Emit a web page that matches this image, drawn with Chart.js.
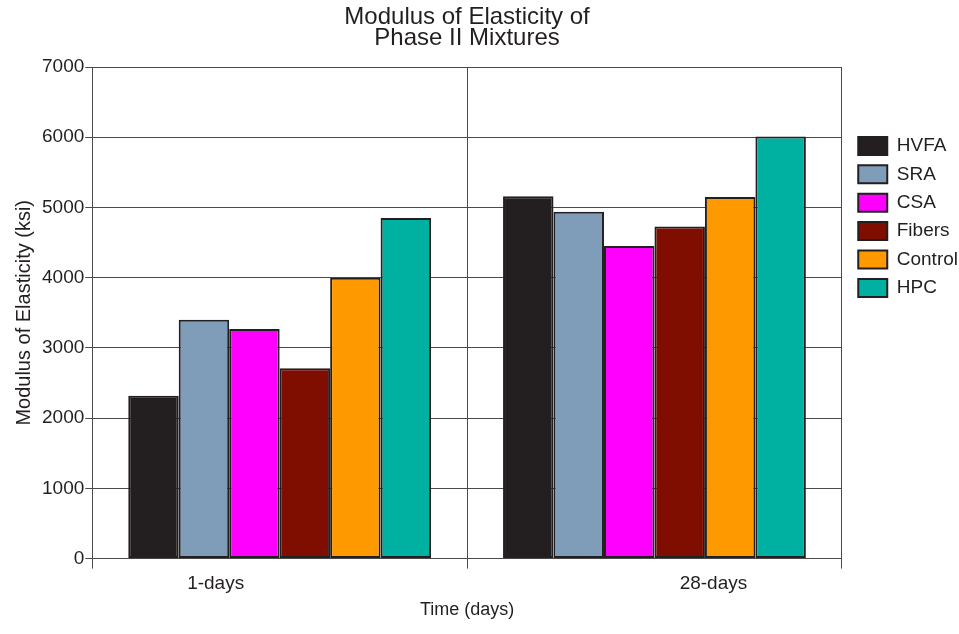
<!DOCTYPE html>
<html>
<head>
<meta charset="utf-8">
<title>Modulus of Elasticity of Phase II Mixtures</title>
<script src="https://cdn.jsdelivr.net/npm/chart.js@4/dist/chart.umd.min.js"></script>
<style>
  html, body { margin: 0; padding: 0; background: #ffffff; }
  #wrap { width: 959px; height: 634px; }
</style>
</head>
<body>
<div id="wrap"><canvas id="chart" width="959" height="634"></canvas></div>
<script>
// Test ages
const categories = ['1-days', '28-days'];

// Modulus of elasticity (ksi) for each mixture
const mixtures = ['HVFA', 'SRA', 'CSA', 'Fibers', 'Control', 'HPC'];
const hvfa    = [2320, 5160];
const sra     = [3400, 4940];
const csa     = [3270, 4450];
const fibers  = [2710, 4730];
const control = [4000, 5150];
const hpc     = [4850, 6010];

// Value axis ticks
const yTicks = [0, 1000, 2000, 3000, 4000, 5000, 6000, 7000];

// Styling
const FONT = '"Liberation Sans", Arial, Helvetica, sans-serif';
const INK = '#231f20';
const GRID = '#4a4a4a';
const fills = ['#231f20', '#7f9db9', '#ff00ff', '#800e00', '#ff9900', '#00b0a0'];
const seriesValues = [hvfa, sra, csa, fibers, control, hpc];

// Category labels sit off-centre under each group
const labelShift = [-64, 59];
const xTickFontSize = 19;
const xTickLength = 10;
const xTickPadding = 4;

const shiftedCategoryLabels = {
  id: 'shiftedCategoryLabels',
  afterDraw(chart) {
    const xs = chart.scales.x;
    const ctx = chart.ctx;
    const lineHeight = xTickFontSize * 1.2;
    const y = xs.top + xTickLength + xTickPadding + lineHeight / 2;
    ctx.save();
    ctx.font = xTickFontSize + 'px ' + FONT;
    ctx.fillStyle = INK;
    ctx.textAlign = 'center';
    ctx.textBaseline = 'middle';
    xs.ticks.forEach((t, i) => {
      ctx.fillText(xs.getLabelForValue(t.value), xs.getPixelForTick(i) + labelShift[i], y);
    });
    ctx.restore();
  }
};

const datasets = mixtures.map((name, i) => ({
  label: name,
  data: seriesValues[i],
  backgroundColor: fills[i],
  borderColor: INK,
  borderWidth: 2,
  borderSkipped: false,
  categoryPercentage: 0.808,
  barPercentage: 1.0
}));

new Chart(document.getElementById('chart'), {
  type: 'bar',
  data: { labels: categories, datasets },
  plugins: [shiftedCategoryLabels],
  options: {
    responsive: false,
    animation: false,
    devicePixelRatio: 1,
    layout: { padding: { left: 0, right: -9, top: 0, bottom: 0 } },
    plugins: {
      title: {
        display: true,
        text: ['Modulus of Elasticity of', 'Phase II Mixtures'],
        color: INK,
        fullSize: false,
        font: { family: FONT, size: 24, weight: 'normal', lineHeight: 0.875 },
        padding: { top: 7, bottom: 18 }
      },
      legend: {
        position: 'right',
        align: 'start',
        fullSize: true,
        title: { display: true, text: ' ', font: { size: 10 }, padding: { top: 115, bottom: 0 } },
        labels: {
          color: INK,
          font: { family: FONT, size: 19 },
          boxWidth: 29,
          boxHeight: 18,
          padding: 9.4
        }
      },
      tooltip: { enabled: false }
    },
    scales: {
      x: {
        type: 'category',
        offset: true,
        grid: {
          display: true,
          offset: true,
          color: GRID,
          lineWidth: 1,
          drawTicks: true,
          tickLength: xTickLength,
          tickColor: GRID
        },
        border: { display: true, color: GRID, width: 1 },
        ticks: {
          color: 'rgba(0,0,0,0)',
          font: { family: FONT, size: xTickFontSize },
          padding: xTickPadding,
          maxRotation: 0
        },
        title: {
          display: true,
          text: 'Time (days)',
          color: INK,
          font: { family: FONT, size: 18 },
          padding: { top: 0, bottom: 13 }
        }
      },
      y: {
        type: 'linear',
        position: 'left',
        min: yTicks[0],
        max: yTicks[yTicks.length - 1],
        afterBuildTicks(scale) {
          scale.ticks = yTicks.map(v => ({ value: v }));
        },
        grid: {
          color: GRID,
          lineWidth: 1,
          drawTicks: true,
          tickLength: 7,
          tickColor: GRID
        },
        border: { display: true, color: GRID, width: 1 },
        ticks: {
          color: INK,
          font: { family: FONT, size: 19 },
          padding: 1,
          callback: v => String(v)
        },
        title: {
          display: true,
          text: 'Modulus of Elasticity (ksi)',
          color: INK,
          font: { family: FONT, size: 20 },
          padding: { top: 12, bottom: 5 }
        }
      },
      spacer: {
        type: 'linear',
        position: 'right',
        display: true,
        grid: { display: false, drawTicks: false },
        border: { display: false },
        ticks: { display: false },
        afterFit(scale) { scale.width = 7; }
      }
    }
  }
});
</script>
</body>
</html>
